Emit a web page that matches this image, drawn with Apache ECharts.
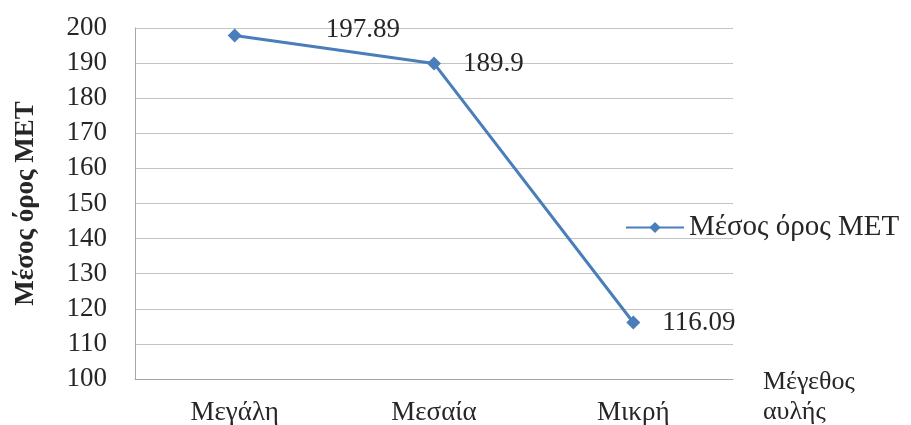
<!DOCTYPE html>
<html>
<head>
<meta charset="utf-8">
<script src="https://cdn.jsdelivr.net/npm/echarts@6/dist/echarts.min.js"></script>
<style>html,body{margin:0;padding:0;background:#fff}#c{width:911px;height:425px}</style>
</head>
<body>
<div id="c"></div>
<script>
var categories = ['Μεγάλη', 'Μεσαία', 'Μικρή'];
var values = [197.89, 189.9, 116.09];
var seriesName = 'Μέσος όρος ΜΕΤ';
var yAxisName = 'Μέσος όρος ΜΕΤ';
var xAxisNameLines = ['Μέγεθος', 'αυλής'];
var yMin = 100, yMax = 200, yStep = 10;

var labelOffsets = [[62, -5], [0, 0], [0, 0]];
var FONT = "'Liberation Serif', 'Times New Roman', serif";
var TXT = '#262626';
var BLUE = '#4a7ebb';

var chart = echarts.init(document.getElementById('c'), null, {renderer: 'canvas'});
chart.setOption({
  animation: false,
  backgroundColor: '#fff',
  textStyle: {fontFamily: FONT, color: TXT},
  grid: {left: 135, right: 178, top: 28, bottom: 46, outerBoundsMode: 'none', containLabel: false},
  legend: {
    data: [seriesName],
    left: 620, top: 208,
    itemWidth: 58, itemHeight: 14,
    textStyle: {fontFamily: FONT, fontSize: 29, color: TXT}
  },
  xAxis: {
    type: 'category',
    data: categories,
    boundaryGap: true,
    name: '{s| }\n{a|' + xAxisNameLines[0] + '}\n{a|' + xAxisNameLines[1] + '}',
    nameLocation: 'end',
    nameGap: 30,
    nameTextStyle: {
      fontFamily: FONT, fontSize: 26, color: TXT, align: 'left', verticalAlign: 'middle',
      rich: {
        s: {fontFamily: FONT, fontSize: 10, lineHeight: 36},
        a: {fontFamily: FONT, fontSize: 26, color: TXT, lineHeight: 30}
      }
    },
    axisLine: {lineStyle: {color: '#a6a6a6', width: 1}},
    axisTick: {show: false},
    axisLabel: {fontFamily: FONT, fontSize: 27, color: TXT, margin: 20}
  },
  yAxis: {
    type: 'value',
    min: yMin, max: yMax, interval: yStep,
    name: yAxisName,
    nameLocation: 'middle',
    nameRotate: 90,
    nameGap: 95,
    nameTextStyle: {fontFamily: FONT, fontSize: 27, fontWeight: 'bold', color: TXT},
    axisLine: {show: true, lineStyle: {color: '#a6a6a6', width: 1}},
    axisTick: {show: false},
    axisLabel: {fontFamily: FONT, fontSize: 27, color: TXT, margin: 28},
    splitLine: {lineStyle: {color: '#c4c4c4', width: 1}}
  },
  series: [{
    name: seriesName,
    type: 'line',
    data: values.map(function (v, i) {
      return {value: v, label: {offset: labelOffsets[i]}};
    }),
    symbol: 'diamond',
    symbolSize: 14,
    lineStyle: {color: BLUE, width: 3},
    itemStyle: {color: BLUE},
    label: {
      show: true, position: 'right', distance: 22,
      fontFamily: FONT, fontSize: 27, color: TXT,
      formatter: function (p) { return String(p.value); }
    }
  }]
});
</script>
</body>
</html>
